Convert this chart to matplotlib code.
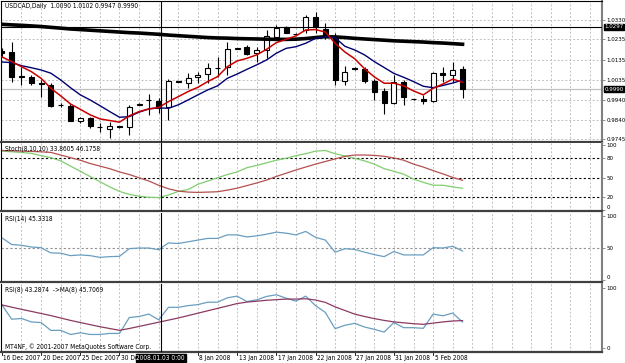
import matplotlib
matplotlib.use('Agg')
import matplotlib.pyplot as plt
import matplotlib.transforms as mtrans

plt.rcParams['font.family'] = ['DejaVu Sans']
plt.rcParams['font.stretch'] = 'condensed'

# bar index -1 .. 46 (daily bars, 16 Dec 2007 .. 11 Feb 2008)
bars = list(range(-1, 47))

opens = [1.0178, 1.0175, 1.0054, 1.0052, 1.0023, 1.0011, 0.9915, 0.9908, 0.9835, 0.9851,
         0.9805, 0.9794, 0.9808, 0.9803, 0.9915, 0.9939, 0.9933, 0.9905, 1.0029, 1.0020,
         1.0049, 1.0064, 1.0097, 1.0101, 1.0190, 1.0196, 1.0167, 1.0183, 1.0248, 1.0294,
         1.0262, 1.0281, 1.0346, 1.0284, 1.0245, 1.0031, 1.0094, 1.0088, 1.0031, 0.9983,
         0.9924, 1.0024, 0.9943, 0.9941, 0.9933, 1.0072, 1.0060, 1.0090]
highs = [1.0193, 1.0224, 1.0101, 1.0060, 1.0036, 1.0023, 0.9923, 0.9917, 0.9856, 0.9856,
         0.9823, 0.9831, 0.9812, 0.9913, 0.9923, 0.9967, 0.9946, 1.0039, 1.0031, 1.0069,
         1.0076, 1.0118, 1.0150, 1.0224, 1.0195, 1.0207, 1.0199, 1.0281, 1.0305, 1.0301,
         1.0264, 1.0355, 1.0371, 1.0314, 1.0265, 1.0104, 1.0099, 1.0101, 1.0042, 0.9995,
         1.0060, 1.0036, 0.9945, 0.9960, 1.0076, 1.0101, 1.0124, 1.0102]
lows = [1.0149, 1.0027, 1.0011, 1.0011, 0.9951, 0.9905, 0.9903, 0.9833, 0.9823, 0.9799,
        0.9782, 0.9750, 0.9800, 0.9766, 0.9911, 0.9864, 0.9872, 0.9840, 1.0025, 0.9995,
        1.0020, 1.0020, 1.0052, 1.0060, 1.0187, 1.0158, 1.0124, 1.0142, 1.0240, 1.0265,
        1.0257, 1.0265, 1.0265, 1.0239, 1.0011, 1.0011, 1.0085, 1.0020, 0.9938, 0.9869,
        0.9919, 0.9913, 0.9939, 0.9919, 0.9930, 1.0027, 1.0027, 0.9947]
closes = [1.0168, 1.0052, 1.0052, 1.0020, 1.0015, 0.9910, 0.9912, 0.9836, 0.9848, 0.9812,
          0.9803, 0.9812, 0.9805, 0.9902, 0.9918, 0.9936, 0.9897, 1.0031, 1.0027, 1.0044,
          1.0060, 1.0096, 1.0095, 1.0186, 1.0192, 1.0163, 1.0183, 1.0252, 1.0292, 1.0268,
          1.0260, 1.0346, 1.0294, 1.0245, 1.0036, 1.0076, 1.0092, 1.0031, 0.9978, 0.9924,
          1.0024, 0.9951, 0.9941, 0.9933, 1.0072, 1.0060, 1.0085, 0.9990]

ma_slow = [1.0309, 1.0306, 1.0304, 1.0301, 1.0298, 1.0294, 1.0290, 1.0286, 1.0283, 1.0280,
           1.0277, 1.0274, 1.0271, 1.0268, 1.0266, 1.0263, 1.0260, 1.0256, 1.0253, 1.0250,
           1.0247, 1.0244, 1.0242, 1.0241, 1.0239, 1.0238, 1.0237, 1.0236, 1.0235, 1.0235,
           1.0236, 1.0239, 1.0244, 1.0248, 1.0247, 1.0244, 1.0240, 1.0237, 1.0234, 1.0231,
           1.0228, 1.0226, 1.0224, 1.0222, 1.0219, 1.0217, 1.0214, 1.0211]
ma_fast = [1.0149, 1.0126, 1.0101, 1.0077, 1.0044, 0.9995, 0.9958, 0.9918, 0.9892, 0.9865,
           0.9845, 0.9837, 0.9829, 0.9860, 0.9881, 0.9894, 0.9901, 0.9930, 0.9954, 0.9979,
           1.0000, 1.0028, 1.0052, 1.0101, 1.0129, 1.0142, 1.0159, 1.0186, 1.0219, 1.0235,
           1.0252, 1.0281, 1.0283, 1.0271, 1.0216, 1.0173, 1.0140, 1.0091, 1.0051, 1.0020,
           1.0020, 1.0007, 0.9982, 0.9963, 0.9995, 1.0016, 1.0040, 1.0025]
ma_mid = [1.0124, 1.0121, 1.0106, 1.0096, 1.0085, 1.0069, 1.0036, 0.9998, 0.9963, 0.9938,
          0.9910, 0.9881, 0.9853, 0.9856, 0.9878, 0.9894, 0.9899, 0.9897, 0.9914, 0.9938,
          0.9963, 0.9987, 1.0007, 1.0044, 1.0065, 1.0088, 1.0110, 1.0134, 1.0167, 1.0191,
          1.0199, 1.0216, 1.0240, 1.0248, 1.0243, 1.0201, 1.0183, 1.0159, 1.0126, 1.0097,
          1.0068, 1.0049, 1.0028, 1.0005, 0.9998, 1.0009, 1.0021, 1.0035]

stoch_main = [91, 90, 89, 87.5, 84, 81, 76, 68, 60, 52, 44, 36, 29, 24.5, 21.5, 20, 19.5,
              23.5, 29, 32, 40, 45, 50, 55, 59, 65.5, 69, 73, 77, 80, 84, 87, 91, 92, 87,
              83.5, 80, 76, 71, 64, 60, 55.5, 48, 43, 38.5, 38.5, 36, 33.86]
stoch_signal = [92, 91.5, 91, 90.5, 90, 89, 85, 81, 77, 72, 68, 64, 59, 55, 50, 45, 38.5,
                33, 29.5, 28, 27.5, 28, 28.5, 31, 34, 38, 42, 46.5, 52, 57, 62, 66.5, 71,
                75, 79, 83, 85, 85, 84.5, 83, 80.5, 77, 71, 66.5, 61, 56, 50.5, 46.18]
rsi14 = [66, 55.4, 54.3, 51.6, 50.5, 42.4, 41.9, 38.1, 39.2, 38.1, 35.4, 36.5, 37, 49, 50,
         50, 47.3, 58, 57, 59.7, 62.4, 65, 65, 70.5, 70.5, 67.3, 68.9, 71.6, 74.8, 73.2,
         70.5, 75.9, 66.7, 62.4, 43.5, 48.9, 47.8, 43.5, 39.7, 36.5, 44.6, 39.2, 39.2,
         39.2, 50.5, 50, 52.7, 45.33]
rsi8 = [71.8, 48, 49.2, 43.5, 42.4, 29.4, 29.4, 22.6, 25.4, 22.6, 22.6, 24.3, 24.3, 50.8,
        52.5, 56.5, 46.9, 67.8, 67.8, 70.6, 72.3, 76.3, 76.3, 83.6, 86.4, 77.4, 80.2, 85.9,
        88.7, 83, 78, 86.4, 70.6, 59.3, 32.2, 37.9, 41.2, 35, 31.1, 26.6, 42.4, 33.9, 33.9,
        32.8, 56.5, 53.7, 58.2, 43.29]
rsi8_ma = [71.8, 68, 64.5, 61, 57.5, 54, 50, 46, 42.5, 39, 35.5, 32.5, 29.5, 32.5, 36, 39.5,
           43, 46.5, 50, 54, 58, 62, 66, 70, 74, 76.5, 78, 79.5, 80.5, 81.5, 81.5, 82, 80,
           76, 68.5, 62.5, 56.5, 52.5, 49, 46, 43.5, 42, 40.5, 39.5, 41.5, 43.5, 45, 45.71]

price_ticks = [1.0330, 1.0235, 1.0135, 1.0035, 0.9940, 0.9840, 0.9745]
date_bars = [-1, 3, 7, 11, 19, 23, 27, 31, 35, 39, 43]
date_labels = ['16 Dec 2007', '20 Dec 2007', '25 Dec 2007', '30 Dec 2007', '8 Jan 2008',
               '13 Jan 2008', '17 Jan 2008', '22 Jan 2008', '27 Jan 2008', '31 Jan 2008',
               '5 Feb 2008']
cross_bar = 15.2
cross_price = 1.0297
bid_price = 0.9990

W, H = 625, 363
L, R = 1, 602
fig = plt.figure(figsize=(W / 100, H / 100), dpi=100)
FS = 4.7
FS_AX = 4.4


def add_panel(top, bottom, ylim):
    ax = fig.add_axes([L / W, 1 - bottom / H, (R - L) / W, (bottom - top) / H])
    ax.set_xlim(-1.09, 60.23)
    ax.set_ylim(*ylim)
    ax.set_xticks(range(1, 61, 2))
    ax.grid(axis='x', color='#c0c0c0', lw=0.7, ls=(0, (2, 2)))
    ax.set_axisbelow(True)
    ax.yaxis.tick_right()
    ax.tick_params(axis='x', bottom=False, labelbottom=False)
    ax.tick_params(axis='y', length=2.5, width=0.6, color='#808080', labelsize=FS_AX, pad=0.6)
    ax.spines['top'].set_visible(False)
    ax.spines['left'].set_color('black')
    ax.spines['left'].set_linewidth(0.8)
    ax.spines['right'].set_color('#808080')
    ax.spines['right'].set_linewidth(1.5)
    ax.spines['bottom'].set_color('#404040')
    ax.spines['bottom'].set_linewidth(1.6)
    ax.axvline(cross_bar, color='black', lw=0.8, zorder=6)
    return ax


def level_labels(ax, levels):
    ax.set_yticks(levels)
    ax.set_yticklabels([str(v) for v in levels])
    # the lowest label sits above its line, as in the terminal
    ax.get_yticklabels()[0].set_verticalalignment('bottom')


# main price window
ax1 = add_panel(1, 142, (0.97317, 1.04232))
ax1.spines['top'].set_visible(True)
ax1.spines['top'].set_linewidth(0.8)
ax1.set_yticks(price_ticks)
ax1.set_yticklabels([f'{p:.4f}' for p in price_ticks])
ax1.grid(axis='y', color='#c0c0c0', lw=0.7, ls=(0, (2, 2)))
ax1.axhline(bid_price, color='#c0c0c0', lw=0.9, zorder=1)
ax1.axhline(cross_price, color='black', lw=0.8, zorder=6)

for i, o, h, l, c in zip(bars, opens, highs, lows, closes):
    ax1.vlines(i, l, h, color='black', lw=0.8, zorder=2)
    body = max(abs(c - o), 0.00004)
    ax1.bar(i, body, bottom=min(o, c), width=0.5, color='white' if c >= o else 'black',
            edgecolor='black', lw=0.8, zorder=3)

ax1.plot(bars, ma_slow, color='black', lw=2.6, zorder=4)
ax1.plot(bars, ma_mid, color='#000070', lw=1.0, zorder=4)
ax1.plot(bars, ma_fast, color='#c80000', lw=1.1, zorder=5)

blend1 = mtrans.blended_transform_factory(ax1.transAxes, ax1.transData)
for val in (cross_price, bid_price):
    ax1.text(1.004, val, f'{val:.4f}', transform=blend1, color='white', fontsize=FS_AX,
             va='center', ha='left', clip_on=False, zorder=10,
             bbox=dict(boxstyle='square,pad=0.1', fc='black', ec='black'))
ax1.text(0.006, 0.985, 'USDCAD,Daily  1.0090 1.0102 0.9947 0.9990', transform=ax1.transAxes,
         fontsize=FS, va='top', ha='left')

# stochastic window
ax2 = add_panel(143, 211, (-1.1, 103.5))
level_labels(ax2, [0, 20, 50, 80, 100])
for lev in (20, 50, 80):
    ax2.axhline(lev, color='black', lw=0.8, ls=(0, (2, 2)))
ax2.plot(bars, stoch_main, color='#7fcf6f', lw=0.9)
ax2.plot(bars, stoch_signal, color='#b45050', lw=0.9)
ax2.text(0.006, 0.96, 'Stoch(8,10,10) 33.8605 46.1758', transform=ax2.transAxes,
         fontsize=FS, va='top', ha='left')

# RSI(14) window
ax3 = add_panel(213, 282, (-3.1, 104.7))
level_labels(ax3, [0, 50, 100])
ax3.axhline(50, color='#909090', lw=0.8, ls=(0, (2, 2)))
ax3.plot(bars, rsi14, color='#6a9ec0', lw=0.9)
ax3.text(0.006, 0.96, 'RSI(14) 45.3318', transform=ax3.transAxes,
         fontsize=FS, va='top', ha='left')

# RSI(8) + MA window
ax4 = add_panel(284, 352, (-6.6, 106.6))
ax4.set_yticks([0, 100])
ax4.plot(bars, rsi8, color='#6a9ec0', lw=0.9)
ax4.plot(bars, rsi8_ma, color='#8b3a62', lw=0.9)
ax4.text(0.006, 0.96, 'RSI(8) 43.2874  ->MA(8) 45.7069', transform=ax4.transAxes,
         fontsize=FS, va='top', ha='left')
ax4.text(0.006, 0.03, 'MT4NF, \u00a9 2001-2007 MetaQuotes Software Corp.', transform=ax4.transAxes,
         fontsize=FS, va='bottom', ha='left')

# date scale under the last window
blend4 = mtrans.blended_transform_factory(ax4.transData, ax4.transAxes)
for b, lab in zip(date_bars, date_labels):
    ax4.plot([b, b], [0, -0.05], transform=blend4, color='black', lw=0.6, clip_on=False)
    ax4.text(b + 0.15, -0.045, lab, transform=blend4, fontsize=FS, va='top', ha='left',
             clip_on=False)
ax4.text(cross_bar, -0.045, '2008.01.03 0:00', transform=blend4, fontsize=FS, color='white',
         va='top', ha='center', clip_on=False, zorder=10,
         bbox=dict(boxstyle='square,pad=0.1', fc='black', ec='black'))

fig.savefig('out.png', dpi=100, facecolor='white')
